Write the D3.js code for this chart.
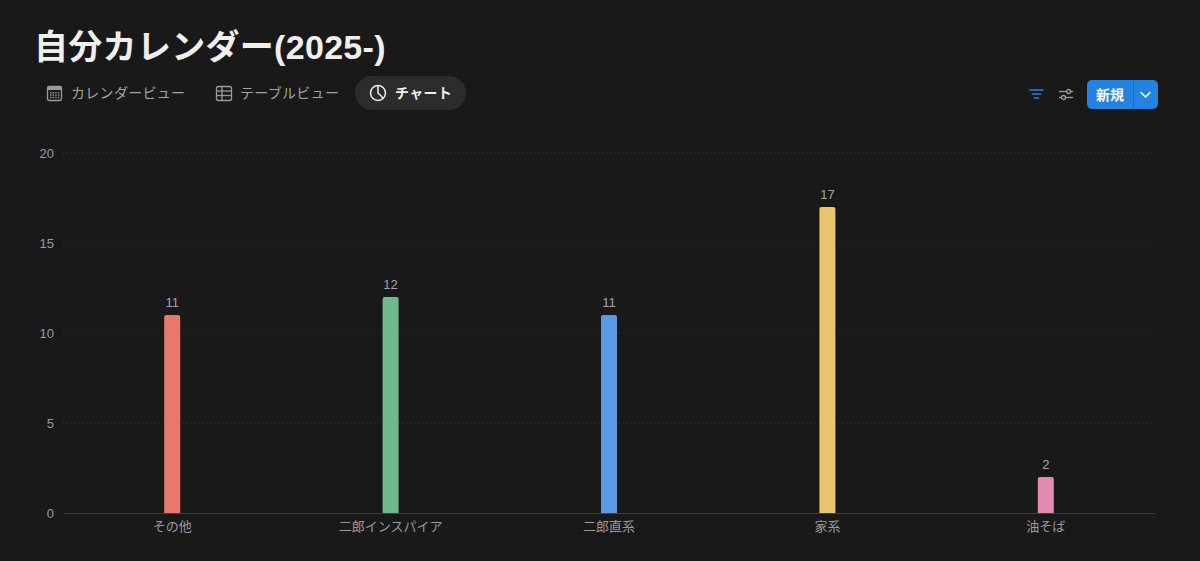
<!DOCTYPE html>
<html>
<head>
<meta charset="utf-8">
<script src="https://cdn.jsdelivr.net/npm/d3@7"></script>
<style>
  html, body { margin: 0; padding: 0; background: #191919; }
  svg { display: block; font-family: "Liberation Sans", "Noto Sans CJK JP", sans-serif; }
</style>
</head>
<body>
<div id="chart"></div>
<script>
// chart data
var categories = ["その他", "二郎インスパイア", "二郎直系", "家系", "油そば"];
var counts = [11, 12, 11, 17, 2];
var yTicks = [0, 5, 10, 15, 20];
var tabs = ["カレンダービュー", "テーブルビュー", "チャート"];
var pageTitle = "自分カレンダー(2025-)";

var palette = ["#e9786c", "#6fba8c", "#5a9ae4", "#ebc46c", "#e28bb0"];

var fontStack = "\"Liberation Sans\", \"Noto Sans CJK JP\", sans-serif";

var svgWidth = 1200;
var svgHeight = 561;

var margin = { top: 153, right: 45, bottom: 48, left: 63 };
var width = svgWidth - margin.left - margin.right;
var height = svgHeight - margin.top - margin.bottom;

var svg = d3.select("#chart")
  .append("svg")
  .attr("width", svgWidth)
  .attr("height", svgHeight);

svg.append("rect")
  .attr("width", svgWidth)
  .attr("height", svgHeight)
  .attr("fill", "#191919");

// header
svg.append("text")
  .attr("x", 34)
  .attr("y", 59)
  .attr("fill", "#f0efed")
  .attr("font-size", "34px")
  .attr("font-weight", "700")
  .attr("letter-spacing", "0.3px")
  .text(pageTitle);

// tabs
var tabGroup = svg.append("g");

tabGroup.append("rect")
  .attr("x", 355).attr("y", 76)
  .attr("width", 111).attr("height", 34)
  .attr("rx", 17)
  .attr("fill", "#2c2c2c");

var tabX = [71, 240, 395];
tabs.forEach(function(t, i) {
  tabGroup.append("text")
    .attr("x", tabX[i])
    .attr("y", 98)
    .attr("font-size", "14px")
    .attr("font-weight", i == 2 ? "700" : "400")
    .attr("letter-spacing", "0.3px")
    .attr("fill", i == 2 ? "#f0efed" : "#a3a3a1")
    .text(t);
});

// calendar icon
var cal = tabGroup.append("g").attr("transform", "translate(47, 86)")
  .attr("stroke", "#9b9b9b").attr("fill", "none");
cal.append("rect").attr("x", 0.5).attr("y", 0.5).attr("width", 14).attr("height", 14).attr("rx", 2).attr("stroke-width", 1.3);
cal.append("rect").attr("x", 0.5).attr("y", 0.5).attr("width", 14).attr("height", 3.5).attr("fill", "#9b9b9b").attr("stroke", "none");
[0, 1, 2].forEach(function(r) {
  [0, 1, 2, 3].forEach(function(c) {
    cal.append("rect").attr("x", 3 + c * 2.6).attr("y", 6 + r * 2.4)
      .attr("width", 1.4).attr("height", 1.4).attr("fill", "#9b9b9b").attr("stroke", "none");
  });
});

// table icon
var tbl = tabGroup.append("g").attr("transform", "translate(216, 86)")
  .attr("stroke", "#9b9b9b").attr("fill", "none").attr("stroke-width", 1.3);
tbl.append("rect").attr("x", 0.5).attr("y", 0.5).attr("width", 15).attr("height", 14).attr("rx", 2);
tbl.append("line").attr("x1", 0.5).attr("x2", 15.5).attr("y1", 5).attr("y2", 5);
tbl.append("line").attr("x1", 0.5).attr("x2", 15.5).attr("y1", 9.5).attr("y2", 9.5);
tbl.append("line").attr("x1", 6).attr("x2", 6).attr("y1", 0.5).attr("y2", 14.5);

// pie icon
var pie = tabGroup.append("g").attr("transform", "translate(378, 93)")
  .attr("stroke", "#f0efed").attr("fill", "none").attr("stroke-width", 1.5);
pie.append("circle").attr("r", 7.5);
pie.append("path").attr("d", "M0,-7.5 L0,0 L5.3,5.3");

// right side controls
var filt = svg.append("g").attr("transform", "translate(1030, 90)")
  .attr("stroke", "#2383e2").attr("stroke-width", 1.6).attr("stroke-linecap", "round");
filt.append("line").attr("x1", 0).attr("x2", 13).attr("y1", 0).attr("y2", 0);
filt.append("line").attr("x1", 2.5).attr("x2", 10.5).attr("y1", 4).attr("y2", 4);
filt.append("line").attr("x1", 4.5).attr("x2", 8.5).attr("y1", 8).attr("y2", 8);

var sl = svg.append("g").attr("transform", "translate(1059, 90)")
  .attr("stroke", "#9b9b9b").attr("stroke-width", 1.3).attr("fill", "#191919");
sl.append("line").attr("x1", 0).attr("x2", 14).attr("y1", 1.5).attr("y2", 1.5);
sl.append("line").attr("x1", 0).attr("x2", 14).attr("y1", 7.5).attr("y2", 7.5);
sl.append("circle").attr("cx", 9.5).attr("cy", 1.5).attr("r", 2);
sl.append("circle").attr("cx", 4.5).attr("cy", 7.5).attr("r", 2);

var btn = svg.append("g");
btn.append("rect")
  .attr("x", 1087).attr("y", 80)
  .attr("width", 71).attr("height", 29)
  .attr("rx", 5)
  .attr("fill", "#2383e2");
btn.append("line")
  .attr("x1", 1133.5).attr("x2", 1133.5).attr("y1", 80).attr("y2", 109)
  .attr("stroke", "#1a6fc4").attr("stroke-width", 1);
btn.append("text")
  .attr("x", 1110).attr("y", 100)
  .attr("text-anchor", "middle")
  .attr("font-size", "14px")
  .attr("font-weight", "700")
  .attr("fill", "#ffffff")
  .text("新規");
btn.append("path")
  .attr("d", "M1141,92.5 L1145.5,97 L1150,92.5")
  .attr("fill", "none").attr("stroke", "#ffffff").attr("stroke-width", 1.6)
  .attr("stroke-linecap", "round").attr("stroke-linejoin", "round");

// chart
var chartGroup = svg.append("g")
  .attr("transform", `translate(${margin.left}, ${margin.top})`);

var xBandScale = d3.scaleBand()
  .domain(categories)
  .range([0, width]);

var yLinearScale = d3.scaleLinear()
  .domain([0, d3.max(yTicks)])
  .range([height, 0]);

// grid lines
chartGroup.append("g")
  .selectAll("line")
  .data(yTicks.filter(d => d > 0))
  .enter()
  .append("line")
  .attr("x1", 0)
  .attr("x2", width)
  .attr("y1", d => yLinearScale(d))
  .attr("y2", d => yLinearScale(d))
  .attr("stroke", "#383838")
  .attr("stroke-dasharray", "1,3");

// y axis
var leftAxis = d3.axisLeft(yLinearScale).tickValues(yTicks).tickSize(0).tickPadding(9);
var yAxis = chartGroup.append("g").call(leftAxis);
yAxis.select(".domain").remove();
yAxis.selectAll("text")
  .attr("fill", "#9b9b9b")
  .attr("font-size", "13px")
  .attr("font-family", fontStack);

// x axis
var bottomAxis = d3.axisBottom(xBandScale).tickSize(0).tickPadding(9);
var xAxis = chartGroup.append("g")
  .attr("transform", `translate(0, ${height})`)
  .call(bottomAxis);
xAxis.select(".domain").attr("stroke", "#3f3f3f");
xAxis.selectAll("text")
  .attr("fill", "#9b9b9b")
  .attr("font-size", "13px")
  .attr("font-family", fontStack);

// bars
var barWidth = 16;
chartGroup.append("g")
  .selectAll("path")
  .data(counts)
  .enter()
  .append("path")
  .attr("d", function(d, i) {
    var x0 = xBandScale(categories[i]) + xBandScale.bandwidth() / 2 - barWidth / 2;
    var y0 = yLinearScale(d);
    var y1 = yLinearScale(0);
    var r = 2;
    return `M${x0},${y1} L${x0},${y0 + r} Q${x0},${y0} ${x0 + r},${y0} ` +
      `L${x0 + barWidth - r},${y0} Q${x0 + barWidth},${y0} ${x0 + barWidth},${y0 + r} ` +
      `L${x0 + barWidth},${y1} Z`;
  })
  .attr("fill", (d, i) => palette[i]);

// value labels
chartGroup.append("g")
  .selectAll("text")
  .data(counts)
  .enter()
  .append("text")
  .attr("x", (d, i) => xBandScale(categories[i]) + xBandScale.bandwidth() / 2)
  .attr("y", d => yLinearScale(d) - 8)
  .attr("text-anchor", "middle")
  .attr("font-size", "13px")
  .attr("fill", "#a5a5a3")
  .text(d => d);
</script>
</body>
</html>
